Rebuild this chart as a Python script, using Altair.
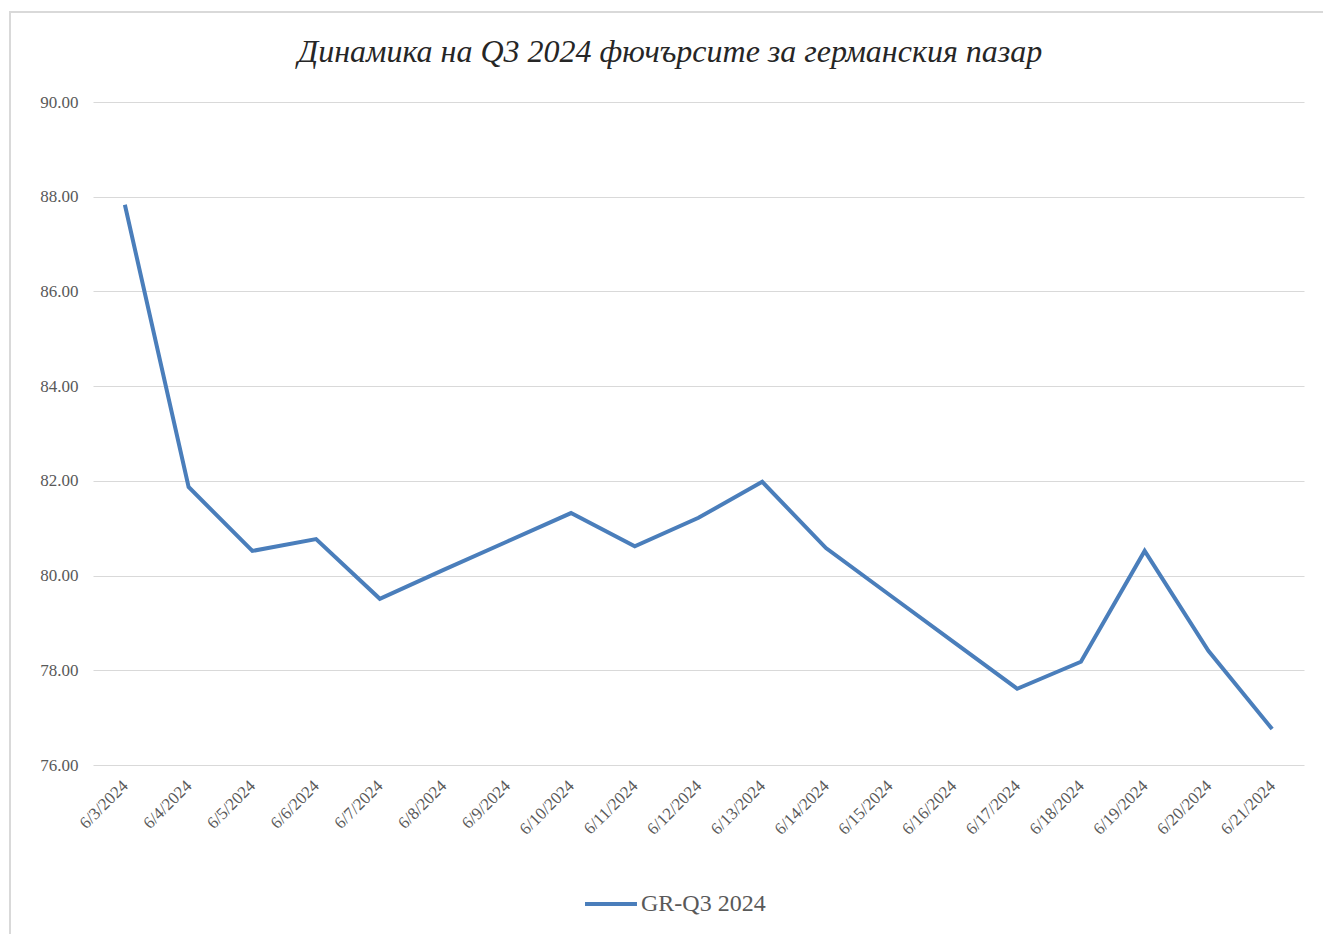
import altair as alt
import pandas as pd

dates = ["6/3/2024", "6/4/2024", "6/5/2024", "6/6/2024", "6/7/2024", "6/8/2024",
         "6/9/2024", "6/10/2024", "6/11/2024", "6/12/2024", "6/13/2024", "6/14/2024",
         "6/15/2024", "6/16/2024", "6/17/2024", "6/18/2024", "6/19/2024", "6/20/2024",
         "6/21/2024"]
values = [87.83, 81.87, 80.52, 80.77, 79.51, 80.12, 80.72, 81.32, 80.62, 81.22,
          81.98, 80.58, 79.59, 78.60, 77.61, 78.18, 80.52, 78.41, 76.76]
series_name = "GR-Q3 2024"
y_ticks = [76, 78, 80, 82, 84, 86, 88, 90]
title_text = "Динамика на Q3 2024 фючърсите за германския пазар"

df = pd.DataFrame({"date": dates, "value": values, "series": [series_name] * len(dates)})

W, H = 1211, 663
PL, PT = 93, 102
serif = "Liberation Serif"
grey_text = "#595959"

one = pd.DataFrame({"t": [title_text]})

frame = alt.Chart(one).mark_rect(
    fill="transparent", stroke="#d9d9d9", strokeWidth=2
).encode(
    x=alt.value(10 - PL), x2=alt.value(1323 - PL + 10),
    y=alt.value(12 - PT), y2=alt.value(934 - PT + 10)
)

title = alt.Chart(one).mark_text(
    font=serif, fontSize=32, fontStyle="italic", color="#262626",
    align="center", baseline="alphabetic"
).encode(
    text="t:N", x=alt.value(670 - PL), y=alt.value(62 - PT)
)

line = alt.Chart(df).mark_line(strokeWidth=4, color="#4A7EBB").encode(
    x=alt.X("date:N", sort=dates, title=None,
            scale=alt.Scale(type="point", padding=0.5),
            axis=alt.Axis(labelAngle=-45, labelAlign="right", labelBaseline="middle",
                          labelFont=serif, labelFontSize=17, labelColor=grey_text,
                          labelPadding=18, ticks=False, domain=False, grid=False)),
    y=alt.Y("value:Q", title=None,
            scale=alt.Scale(domain=[76, 90], nice=False, zero=False),
            axis=alt.Axis(values=y_ticks, format=".2f", labelFont=serif, labelFontSize=17,
                          labelColor=grey_text, labelPadding=15, ticks=False, domain=False,
                          gridColor="#d9d9d9", gridWidth=1)),
    stroke=alt.Stroke("series:N", scale=alt.Scale(range=["#4A7EBB"]),
                      legend=alt.Legend(title=None, orient="none", legendX=490, legendY=774,
                                        symbolType="stroke", symbolSize=2700,
                                        symbolStrokeWidth=4, labelFont=serif,
                                        labelFontSize=24, labelColor=grey_text,
                                        labelOffset=2))
)

chart = alt.layer(frame, title, line).properties(
    width=W, height=H,
    background="white",
    autosize=alt.AutoSizeParams(type="none"),
    padding={"left": PL, "top": PT, "right": 1323 - PL - W, "bottom": 934 - PT - H},
).configure_view(stroke=None)

chart.save("out.html", embed_options={"renderer": "svg", "actions": False})
